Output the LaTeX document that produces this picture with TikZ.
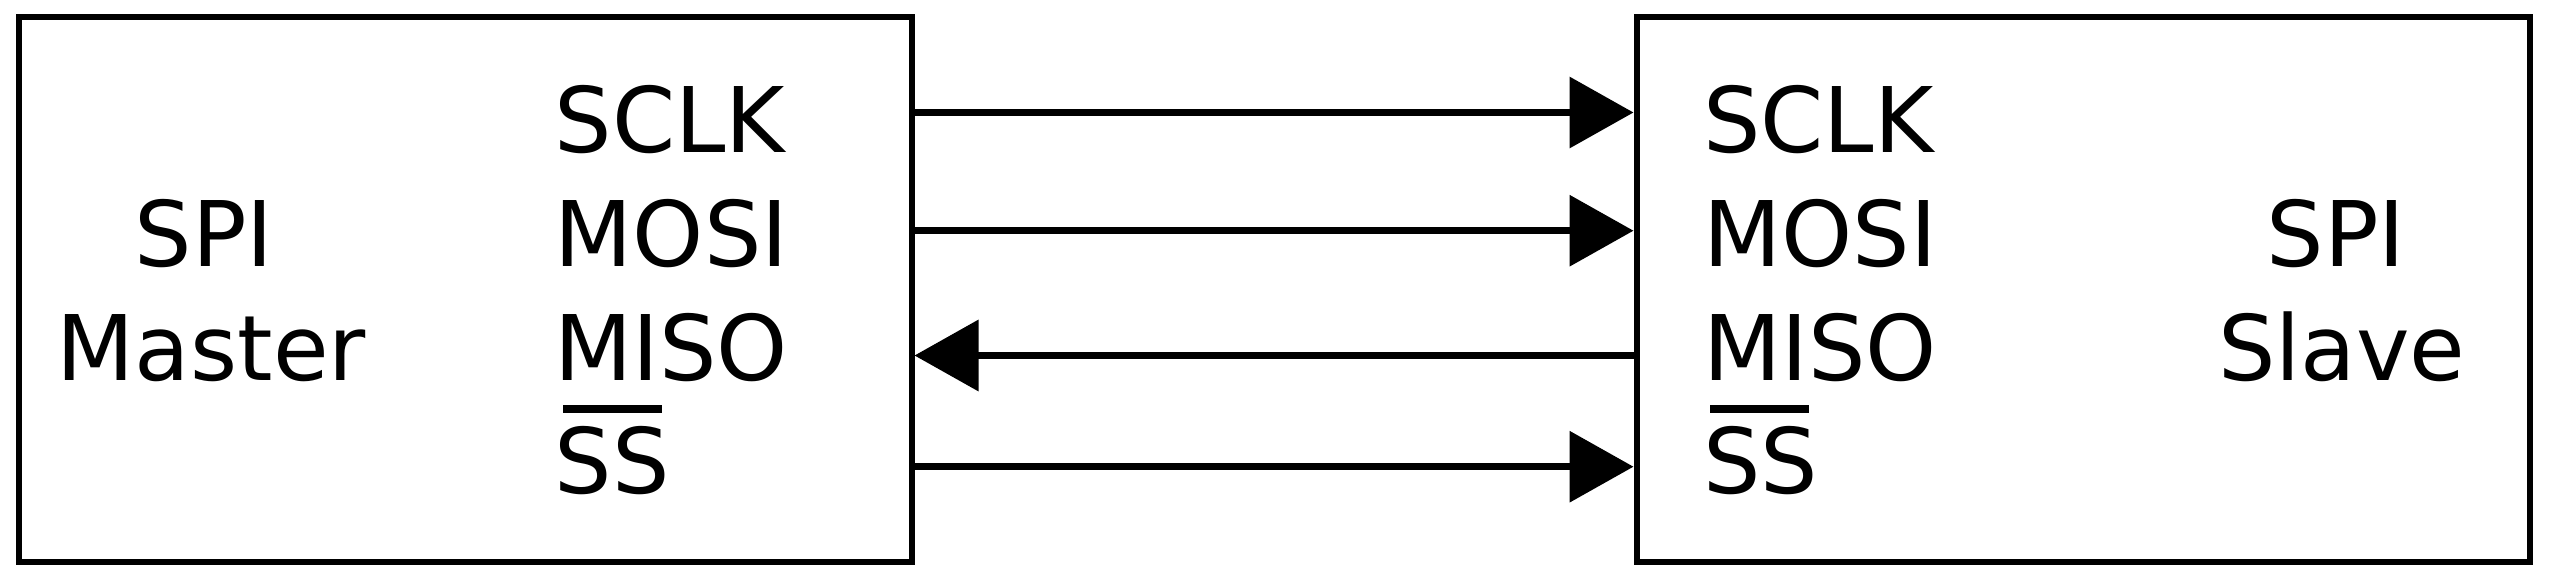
\documentclass[tikz,border=0pt]{standalone}
\usepackage{fontspec}
\setmainfont{DejaVu Sans}
\usetikzlibrary{arrows.meta}
\begin{document}
\begin{tikzpicture}[x=1pt,y=-1pt,
  box/.style={draw=black, line width=6pt, minimum width=893pt, minimum height=545pt, inner sep=0pt},
  lbl/.style={anchor=base west, inner sep=0pt, font=\fontsize{90.5}{100}\selectfont},
  sig/.style={line width=7pt, -{Triangle[length=64pt,width=70pt]}},
  ovl/.style={fill=black}]
\useasboundingbox (0,0) rectangle (2550,584);
\node[box] (master) at (465,289.5) {};
\node[box] (slave) at (2083,289.5) {};
% Master labels
\node[lbl] (mspi) at (134.6,266) {SPI};
\node[lbl] (mname) at (56.6,380) {Master};
\node[lbl] (msclk) at (554.5,152) {SCLK};
\node[lbl] (mmosi) at (554.5,266) {MOSI};
\node[lbl] (mmiso) at (554.5,380) {MISO};
\node[lbl] (mss) at (554.5,493) {SS};
\fill[ovl] ([xshift=8pt,yshift=80pt]mss.base west) rectangle ++(99pt,8pt);
% Slave labels
\node[lbl] (ssclk) at (1703,152) {SCLK};
\node[lbl] (smosi) at (1703,266) {MOSI};
\node[lbl] (smiso) at (1703,380) {MISO};
\node[lbl] (sss) at (1703,493) {SS};
\fill[ovl] ([xshift=7pt,yshift=80pt]sss.base west) rectangle ++(99pt,8pt);
\node[lbl] (sspi) at (2266.7,266) {SPI};
\node[lbl] (sname) at (2218,380) {Slave};
% signal rows
\coordinate (r1) at (0,112.5);
\coordinate (r2) at (0,230.7);
\coordinate (r3) at (0,355.5);
\coordinate (r4) at (0,466.7);
\draw[sig] (master.east |- r1) -- (slave.west |- r1);
\draw[sig] (master.east |- r2) -- (slave.west |- r2);
\draw[sig] (slave.west |- r3) -- (master.east |- r3);
\draw[sig] (master.east |- r4) -- (slave.west |- r4);
\end{tikzpicture}
\end{document}
